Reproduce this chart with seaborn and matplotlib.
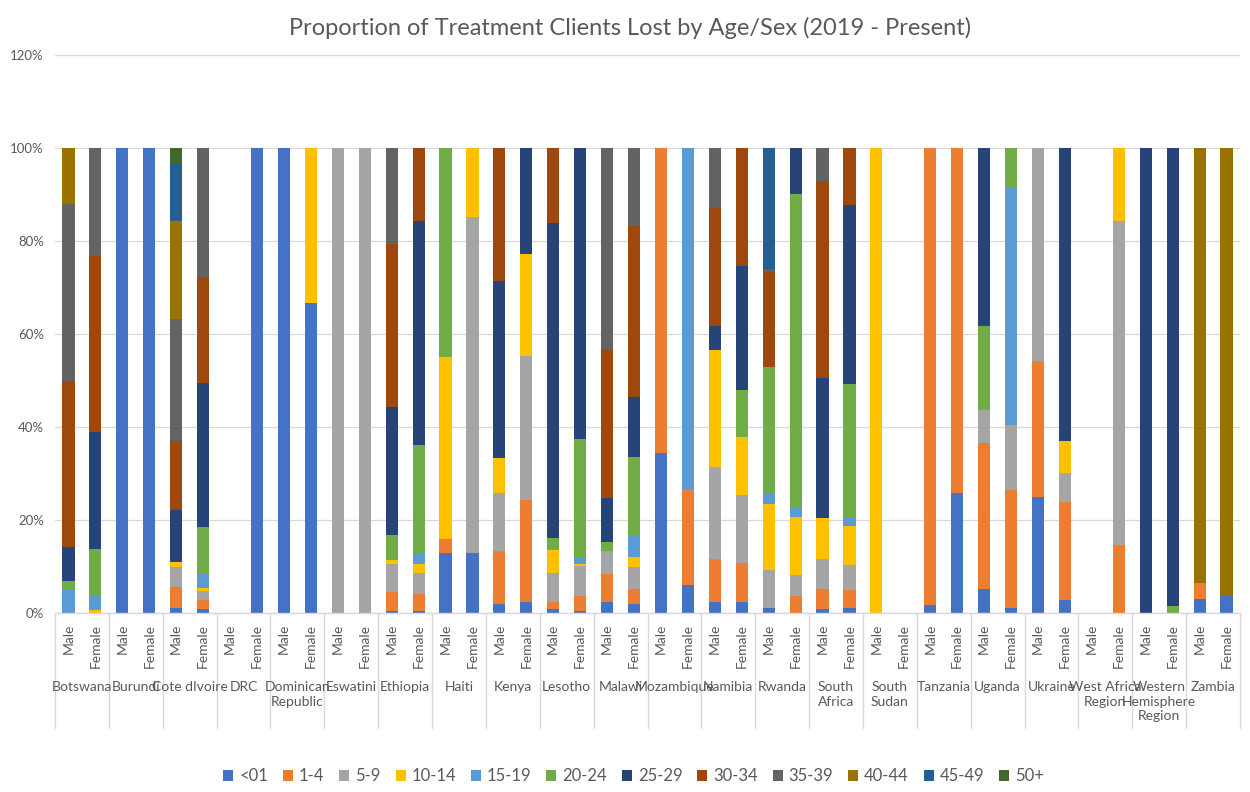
import pandas as pd
import matplotlib.pyplot as plt
import seaborn as sns
from matplotlib.patches import Patch
from matplotlib.ticker import PercentFormatter

countries = ["Botswana", "Burundi", "Cote dIvoire", "DRC", "Dominican\nRepublic", "Eswatini",
             "Ethiopia", "Haiti", "Kenya", "Lesotho", "Malawi", "Mozambique", "Namibia",
             "Rwanda", "South\nAfrica", "South\nSudan", "Tanzania", "Uganda", "Ukraine",
             "West Africa\nRegion", "Western\nHemisphere\nRegion", "Zambia"]
sexes = ["Male", "Female"]
ages = ["<01", "1-4", "5-9", "10-14", "15-19", "20-24", "25-29", "30-34", "35-39", "40-44", "45-49", "50+"]
colors = ["#4472C4", "#ED7D31", "#A5A5A5", "#FFC000", "#5B9BD5", "#70AD47",
          "#264478", "#9E480E", "#636363", "#997300", "#255E91", "#43682B"]

# percent of clients lost, one pair (male, female) per country, in country order
lt01 = [0, 0, 100, 100, 1.1, 0.8, 0, 100, 100, 66.7, 0, 0, 0.4, 0.4, 13.0, 13.0, 1.9, 2.3,
        0.8, 0.4, 2.4, 2.0, 34.5, 6.1, 2.4, 2.4, 1.1, 0, 0.8, 1.1, 0, 0, 1.7, 25.9,
        5.2, 1.1, 25.0, 2.7, 0, 0, 0, 0, 3.1, 3.7]
a1_4 = [0, 0, 0, 0, 4.6, 2.0, 0, 0, 0, 0, 0, 0, 4.2, 3.6, 3.0, 0, 11.5, 21.9,
        1.6, 3.3, 5.9, 3.2, 65.5, 20.5, 9.3, 8.4, 0, 3.7, 4.3, 3.8, 0, 0, 98.3, 74.1,
        31.4, 25.3, 29.1, 21.2, 0, 14.7, 0, 0, 3.3, 0]
a5_9 = [0, 0, 0, 0, 4.3, 1.9, 0, 0, 0, 0, 100, 100, 5.9, 4.7, 0, 72.1, 12.5, 31.1,
        6.1, 6.5, 5.0, 4.7, 0, 0, 19.7, 14.6, 8.1, 4.5, 6.5, 5.4, 0, 0, 0, 0,
        7.1, 14.1, 45.9, 6.3, 0, 69.7, 0, 0, 0, 0]
a10_14 = [0, 0.6, 0, 0, 1.0, 0.6, 0, 0, 0, 33.3, 0, 0, 1.0, 1.8, 39.0, 14.9, 7.4, 21.8,
          5.0, 0.4, 0, 2.2, 0, 0, 25.2, 12.5, 14.2, 12.5, 8.8, 8.4, 100, 0, 0, 0,
          0, 0, 0, 6.7, 0, 15.6, 0, 0, 0, 0]
a15_19 = [5.1, 3.1, 0, 0, 0, 3.0, 0, 0, 0, 0, 0, 0, 0, 2.5, 0, 0, 0, 0,
          0, 1.4, 0, 4.6, 0, 73.4, 0, 0, 2.4, 2.0, 0, 1.7, 0, 0, 0, 0,
          0, 51.0, 0, 0, 0, 0, 0, 0, 0, 0]
a20_24 = [1.8, 10.0, 0, 0, 0, 10.3, 0, 0, 0, 0, 0, 0, 5.3, 23.2, 45.0, 0, 0, 0,
          2.6, 25.4, 1.9, 16.8, 0, 0, 0, 10.1, 27.0, 67.5, 0, 28.8, 0, 0, 0, 0,
          18.0, 8.5, 0, 0, 0, 0, 0, 1.5, 0, 0]
a25_29 = [7.2, 25.3, 0, 0, 11.2, 30.9, 0, 0, 0, 0, 0, 0, 27.6, 48.0, 0, 0, 38.0, 22.9,
          67.7, 62.6, 9.5, 12.9, 0, 0, 5.1, 26.7, 0, 9.8, 30.1, 38.5, 0, 0, 0, 0,
          38.3, 0, 0, 63.1, 0, 0, 100, 98.5, 0, 0]
a30_34 = [35.8, 37.8, 0, 0, 14.7, 22.8, 0, 0, 0, 0, 0, 0, 35.0, 15.8, 0, 0, 28.7, 0,
          16.2, 0, 31.9, 36.8, 0, 0, 25.4, 25.3, 20.6, 0, 42.4, 12.3, 0, 0, 0, 0,
          0, 0, 0, 0, 0, 0, 0, 0, 0, 0]
a35_39 = [38.1, 23.2, 0, 0, 26.4, 27.7, 0, 0, 0, 0, 0, 0, 20.6, 0, 0, 0, 0, 0,
          0, 0, 43.4, 16.8, 0, 0, 12.9, 0, 0.5, 0, 7.1, 0, 0, 0, 0, 0,
          0, 0, 0, 0, 0, 0, 0, 0, 0, 0]
a40_44 = [12.0, 0, 0, 0, 21.1, 0, 0, 0, 0, 0, 0, 0, 0, 0, 0, 0, 0, 0,
          0, 0, 0, 0, 0, 0, 0, 0, 0, 0, 0, 0, 0, 0, 0, 0,
          0, 0, 0, 0, 0, 0, 0, 0, 93.6, 96.3]
a45_49 = [0, 0, 0, 0, 12.4, 0, 0, 0, 0, 0, 0, 0, 0, 0, 0, 0, 0, 0,
          0, 0, 0, 0, 0, 0, 0, 0, 26.1, 0, 0, 0, 0, 0, 0, 0,
          0, 0, 0, 0, 0, 0, 0, 0, 0, 0]
a50p = [0, 0, 0, 0, 3.2, 0, 0, 0, 0, 0, 0, 0, 0, 0, 0, 0, 0, 0,
        0, 0, 0, 0, 0, 0, 0, 0, 0, 0, 0, 0, 0, 0, 0, 0,
        0, 0, 0, 0, 0, 0, 0, 0, 0, 0]

series = [lt01, a1_4, a5_9, a10_14, a15_19, a20_24, a25_29, a30_34, a35_39, a40_44, a45_49, a50p]

rows = []
for age, vals in zip(ages, series):
    for i, v in enumerate(vals):
        rows.append({"bar": i, "age": age, "share": v / 100})
df = pd.DataFrame(rows)

sns.set_theme(style="white")
plt.rcParams["font.family"] = ["Lato", "DejaVu Sans"]
text_color = "#595959"

fig = plt.figure(figsize=(12.5, 7.92), dpi=100)
ax = fig.add_axes([0.044, 0.226, 0.948, 0.7046])

# seaborn stacks the last hue level at the bottom, so feed the order reversed
sns.histplot(data=df, x="bar", weights="share", hue="age", hue_order=ages[::-1],
             palette=colors[::-1], multiple="stack", discrete=True, shrink=0.45,
             linewidth=0, alpha=1, legend=False, ax=ax)

n_bars = len(countries) * 2
ax.set_xlim(-0.5, n_bars - 0.5)
ax.set_ylim(0, 1.2)
ax.set_yticks([0, 0.2, 0.4, 0.6, 0.8, 1.0, 1.2])
ax.yaxis.set_major_formatter(PercentFormatter(1.0, decimals=0))
ax.grid(axis="y", color="#d9d9d9", linewidth=0.9)
ax.set_axisbelow(True)
for s in ["top", "right", "left"]:
    ax.spines[s].set_visible(False)
ax.spines["bottom"].set_color("#d9d9d9")
ax.spines["bottom"].set_linewidth(1.0)
ax.tick_params(axis="y", length=0, labelsize=9.5, labelcolor=text_color, pad=8)

ax.set_xticks(range(n_bars), sexes * len(countries), rotation=90)
ax.tick_params(axis="x", length=0, labelsize=10, labelcolor=text_color, pad=8)
ax.set_xlabel("")
ax.set_ylabel("")

# country names and group dividers under the axis
trans = ax.get_xaxis_transform()
for k, name in enumerate(countries):
    ax.text(2 * k + 0.5, -0.122, name, transform=trans, ha="center", va="top",
            fontsize=10, color=text_color, linespacing=1.25)
for k in range(len(countries) + 1):
    ax.plot([2 * k - 0.5, 2 * k - 0.5], [0, -0.206], transform=trans,
            color="#d9d9d9", linewidth=1.0, clip_on=False)

fig.text(0.504, 0.965, "Proportion of Treatment Clients Lost by Age/Sex (2019 - Present)",
         ha="center", va="center", fontsize=17, color=text_color)

handles = [Patch(facecolor=c, edgecolor="none") for c in colors]
fig.legend(handles, ages, loc="center", bbox_to_anchor=(0.507, 0.02), ncol=12,
           frameon=False, fontsize=12, labelcolor=text_color, handlelength=0.6,
           handleheight=0.6, handletextpad=0.35, columnspacing=0.9)

fig.savefig("out.png", dpi=100)
